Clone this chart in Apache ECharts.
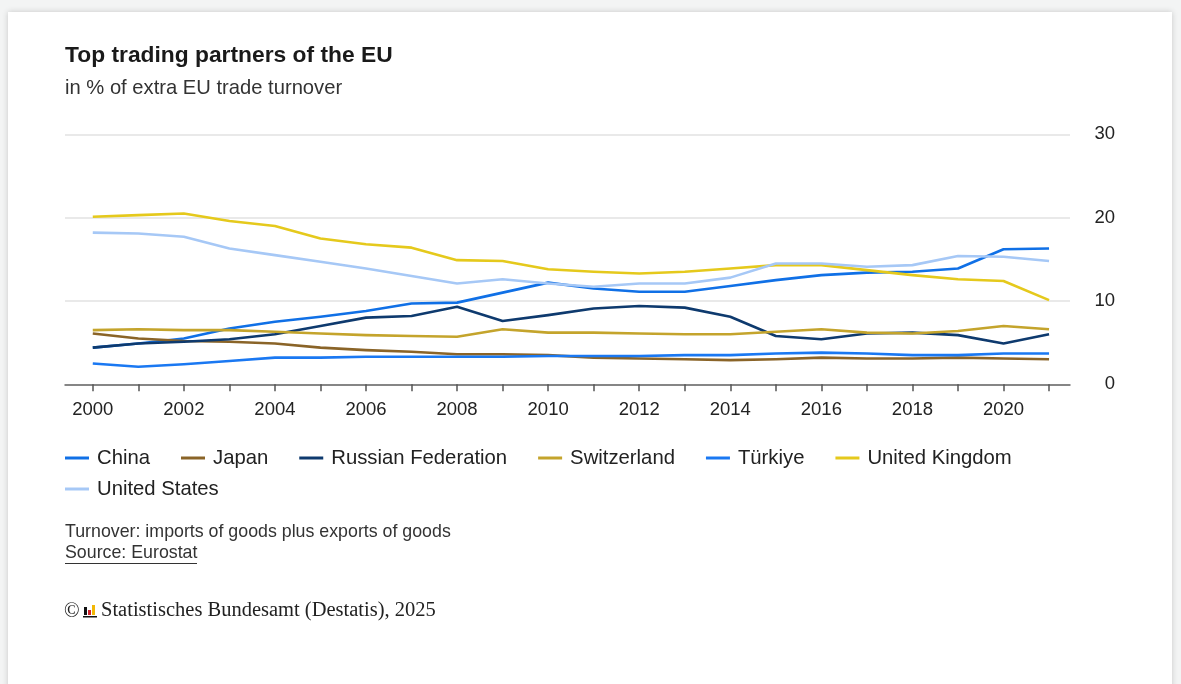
<!DOCTYPE html>
<html>
<head>
<meta charset="utf-8">
<script src="https://cdn.jsdelivr.net/npm/echarts@6/dist/echarts.min.js"></script>
<style>
  html, body { margin: 0; padding: 0; background: #f3f4f4; width: 1181px; height: 684px; overflow: hidden; }
  #card { position: absolute; left: 8px; top: 12px; width: 1164px; height: 700px; background: #fff; box-shadow: 0 0 6px rgba(0,0,0,0.18); }
  #chart { position: absolute; left: 0; top: 0; width: 1181px; height: 684px; }
</style>
</head>
<body>
<div id="card"></div>
<div id="chart"></div>
<script>
const years = [2000,2001,2002,2003,2004,2005,2006,2007,2008,2009,2010,2011,2012,2013,2014,2015,2016,2017,2018,2019,2020,2021];
const xLabelYears = [2000,2002,2004,2006,2008,2010,2012,2014,2016,2018,2020];
const yTicks = [0,10,20,30];

const china       = [4.4,4.9,5.5,6.7,7.5,8.1,8.8,9.7,9.8,11.0,12.2,11.5,11.1,11.1,11.8,12.5,13.1,13.4,13.5,13.9,16.2,16.3];
const japan       = [6.1,5.5,5.2,5.1,4.9,4.4,4.1,3.9,3.6,3.6,3.5,3.2,3.1,3.0,2.9,3.0,3.2,3.1,3.1,3.2,3.1,3.0];
const russia      = [4.4,4.9,5.1,5.4,6.0,7.0,8.0,8.2,9.3,7.6,8.3,9.1,9.4,9.2,8.1,5.8,5.4,6.1,6.2,5.9,4.9,6.0];
const switzerland = [6.5,6.6,6.5,6.5,6.3,6.1,5.9,5.8,5.7,6.6,6.2,6.2,6.1,6.0,6.0,6.3,6.6,6.2,6.1,6.4,7.0,6.6];
const turkiye     = [2.5,2.1,2.4,2.8,3.2,3.2,3.3,3.3,3.3,3.3,3.4,3.4,3.4,3.5,3.5,3.7,3.8,3.7,3.5,3.5,3.7,3.7];
const uk          = [20.1,20.3,20.5,19.6,19.0,17.5,16.8,16.4,14.9,14.8,13.8,13.5,13.3,13.5,13.9,14.3,14.3,13.7,13.1,12.6,12.4,10.1];
const us          = [18.2,18.1,17.7,16.3,15.5,14.7,13.9,13.0,12.1,12.6,12.1,11.7,12.1,12.1,12.8,14.5,14.5,14.1,14.3,15.4,15.3,14.8];

const seriesNames = ['China','Japan','Russian Federation','Switzerland','Türkiye','United Kingdom','United States'];
const seriesData  = [china, japan, russia, switzerland, turkiye, uk, us];
const colors = ['#1070e6','#8a6428','#0e3a6e','#c4a42c','#1a78f2','#e5c91c','#a6c8f6'];

const FONT = '"Liberation Sans", Arial, Helvetica, sans-serif';
const SERIF = '"Liberation Serif", "Times New Roman", serif';

const chart = echarts.init(document.getElementById('chart'), null, {renderer: 'canvas'});

const series = seriesNames.map((name, i) => ({
  name: name,
  type: 'line',
  data: years.map((y, j) => [y, seriesData[i][j]]),
  showSymbol: false,
  symbol: 'none',
  lineStyle: { width: 2.6, color: colors[i], join: 'round' },
  itemStyle: { color: colors[i] },
  emphasis: { disabled: true },
  z: 3
}));

const legendCommon = {
  orient: 'horizontal',
  icon: 'rect',
  itemWidth: 24,
  itemHeight: 3,
  itemGap: 31,
  padding: 0,
  selectedMode: false,
  textStyle: { fontFamily: FONT, fontSize: 20.3, color: '#222', padding: [0,0,0,3] }
};

chart.setOption({
  animation: false,
  backgroundColor: 'transparent',
  color: colors,
  grid: { left: 65, right: 111, top: 134.3, bottom: 299.7, containLabel: false },
  xAxis: {
    type: 'value',
    min: 1999.39,
    max: 2021.46,
    axisLine: { show: true, lineStyle: { color: '#666', width: 1.5 } },
    axisTick: { show: true, customValues: years, length: 7, lineStyle: { color: '#555', width: 1.5 } },
    axisLabel: { show: true, customValues: xLabelYears, margin: 16, fontFamily: FONT, fontSize: 18.5, color: '#222', formatter: v => String(v) },
    splitLine: { show: false }
  },
  yAxis: {
    type: 'value',
    position: 'right',
    min: 0,
    max: 30,
    interval: 10,
    axisLine: { show: false },
    axisTick: { show: false },
    axisLabel: { margin: 45, align: 'right', fontFamily: FONT, fontSize: 18.5, color: '#222' },
    splitLine: { show: true, lineStyle: { color: '#e2e2e2', width: 1.5 } }
  },
  legend: [
    Object.assign({}, legendCommon, { left: 65, top: 448, data: seriesNames.slice(0, 6) }),
    Object.assign({}, legendCommon, { left: 65, top: 479, data: seriesNames.slice(6) })
  ],
  graphic: [
    { type: 'text', left: 65, top: 44, style: { text: 'Top trading partners of the EU', fontFamily: FONT, fontSize: 22.8, fontWeight: 'bold', fill: '#1a1a1a' } },
    { type: 'text', left: 65, top: 78, style: { text: 'in % of extra EU trade turnover', fontFamily: FONT, fontSize: 20.2, fill: '#333' } },
    { type: 'text', left: 65, top: 523, style: { text: 'Turnover: imports of goods plus exports of goods', fontFamily: FONT, fontSize: 17.8, fill: '#333' } },
    { type: 'text', left: 65, top: 544, style: { text: 'Source: Eurostat', fontFamily: FONT, fontSize: 17.8, fill: '#333' } },
    { type: 'line', shape: { x1: 65, y1: 563.5, x2: 197, y2: 563.5 }, style: { stroke: '#333', lineWidth: 1 } },
    { type: 'text', left: 64, top: 601, style: { text: '©', fontFamily: SERIF, fontSize: 20.5, fill: '#222' } },
    { type: 'rect', shape: { x: 84, y: 607, width: 3, height: 8 }, style: { fill: '#111' } },
    { type: 'rect', shape: { x: 88, y: 610, width: 3, height: 5 }, style: { fill: '#d0212b' } },
    { type: 'rect', shape: { x: 92, y: 605, width: 3, height: 10 }, style: { fill: '#f2b705' } },
    { type: 'rect', shape: { x: 83, y: 616, width: 14, height: 1.5 }, style: { fill: '#111' } },
    { type: 'text', left: 101, top: 600, style: { text: 'Statistisches Bundesamt (Destatis), 2025', fontFamily: SERIF, fontSize: 20.5, fill: '#222' } }
  ],
  series: series
});
</script>
</body>
</html>
